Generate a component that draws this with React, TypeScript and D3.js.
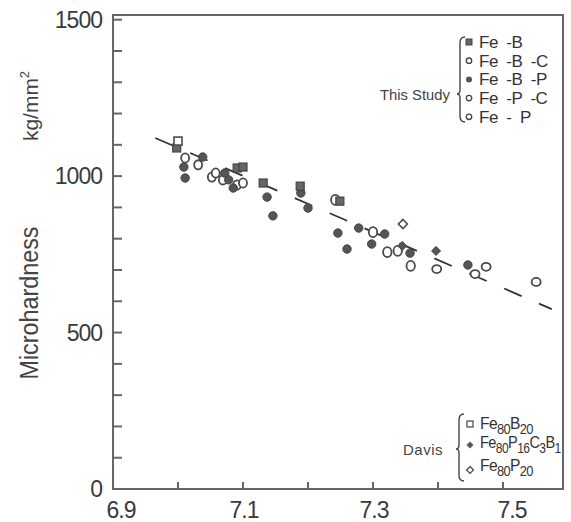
import React from "react";
import * as d3 from "d3";

// ---- data ----
const feB_x = [6.998, 7.091, 7.1, 7.131, 7.188, 7.249];
const feB_y = [1090, 1026, 1029, 978, 968, 920];

const feBP_x = [7.009, 7.011, 7.038, 7.072, 7.078, 7.085, 7.137, 7.146, 7.189, 7.2, 7.246, 7.26, 7.278, 7.298, 7.318, 7.357, 7.446];
const feBP_y = [1029, 994, 1061, 1010, 988, 962, 933, 873, 946, 898, 818, 767, 834, 783, 815, 754, 716];

const feBC_x = [7.011, 7.031, 7.052, 7.058, 7.069, 7.091, 7.1];
const feBC_y = [1058, 1036, 997, 1010, 988, 972, 978];

const fePC_x = [7.242, 7.3, 7.322, 7.338, 7.358];
const fePC_y = [924, 821, 757, 761, 713];

const feP_x = [7.398, 7.457, 7.474, 7.551];
const feP_y = [703, 687, 710, 662];

const davisB_x = [7.0];
const davisB_y = [1112];
const davisPCB_x = [7.345, 7.397];
const davisPCB_y = [777, 761];
const davisP_x = [7.346];
const davisP_y = [847];

const fitX = [6.965, 7.575];
const fitY = [1122, 575];

const xTicks = [6.9, 7.0, 7.1, 7.2, 7.3, 7.4, 7.5];
const xTickLabels = ["6.9", "", "7.1", "", "7.3", "", "7.5"];
const yTickLabels = [0, 500, 1000, 1500];

const studyLabels = ["Fe  -B", "Fe  -B  -C", "Fe  -B  -P", "Fe  -P  -C", "Fe  -  P"];

// ---- layout ----
const L = 113, R = 563, T = 15, B = 489;
const x = d3.scaleLinear().domain([6.9, 7.5923]).range([L, R]);
const y = d3.scaleLinear().domain([0, 1515]).range([B, T]);
const yMinor = d3.range(0, 1501, 100);

const ink = "#4a4a4a";
const font = "'Liberation Sans Narrow', 'Liberation Sans', Arial, sans-serif";

function zip(xs: number[], ys: number[]) {
  return xs.map((v, i) => [v, ys[i]] as [number, number]);
}

function brace(x0: number, y0: number, y1: number, ym: number) {
  const w = 5;
  return `M${x0 + w},${y0} Q${x0},${y0} ${x0},${y0 + 6} L${x0},${ym - 4} Q${x0},${ym} ${x0 - 3},${ym} Q${x0},${ym} ${x0},${ym + 4} L${x0},${y1 - 6} Q${x0},${y1} ${x0 + w},${y1}`;
}

export default function App() {
  const line = d3.line<[number, number]>().x(d => x(d[0])).y(d => y(d[1]));
  const diamond = (cx: number, cy: number, r: number) =>
    `M${cx},${cy - r} L${cx + r},${cy} L${cx},${cy + r} L${cx - r},${cy} Z`;

  return (
    <svg width={571} height={522} style={{ position: "absolute", left: 0, top: 0, background: "#fff" }}>
      {/* frame */}
      <rect x={L} y={T} width={R - L} height={B - T} fill="none" stroke="#666" strokeWidth={2} />
      {/* y ticks */}
      {yMinor.map(v => (
        <line key={"yt" + v} x1={L} x2={L + 9} y1={y(v)} y2={y(v)} stroke="#666" strokeWidth={2} />
      ))}
      {/* x ticks */}
      {xTicks.slice(1).map(v => (
        <line key={"xt" + v} x1={x(v)} x2={x(v)} y1={B} y2={B - 7} stroke="#666" strokeWidth={2} />
      ))}
      {/* tick labels */}
      {yTickLabels.map(v => (
        <text key={"yl" + v} x={102} y={y(v) + 8} textAnchor="end" fontSize={23} fill="#3a3a3a" fontFamily={font} letterSpacing={-1}>
          {v}
        </text>
      ))}
      {xTicks.map((v, i) =>
        xTickLabels[i] ? (
          <text key={"xl" + v} x={x(v) + (i === 0 ? 8 : i === 6 ? 9 : 1)} y={518} textAnchor="middle" fontSize={23} fill="#3a3a3a" fontFamily={font} letterSpacing={-1}>
            {xTickLabels[i]}
          </text>
        ) : null
      )}
      {/* axis titles */}
      <text transform="translate(38,303) rotate(-90)" textAnchor="middle" fontSize={25} fill="#444" fontFamily={font} textLength={153} lengthAdjust="spacingAndGlyphs">
        Microhardness
      </text>
      <text transform="translate(38,106) rotate(-90)" textAnchor="middle" fontSize={21} fill="#444" fontFamily={font}>
        kg/mm<tspan dy={-9} fontSize={13}>2</tspan>
      </text>

      {/* fitted dashed line */}
      <path d={line(zip(fitX, fitY)) || ""} fill="none" stroke="#333" strokeWidth={1.8} strokeDasharray="19 19" />

      {/* Fe-B-C open circles */}
      {zip(feBC_x, feBC_y).map((d, i) => (
        <ellipse key={"bc" + i} cx={x(d[0])} cy={y(d[1])} rx={4} ry={4.6} fill="#fff" stroke={ink} strokeWidth={1.8} />
      ))}
      {zip(fePC_x, fePC_y).map((d, i) => (
        <ellipse key={"pc" + i} cx={x(d[0])} cy={y(d[1])} rx={4.2} ry={5} fill="#fff" stroke={ink} strokeWidth={1.8} />
      ))}
      {zip(feP_x, feP_y).map((d, i) => (
        <ellipse key={"p" + i} cx={x(d[0])} cy={y(d[1])} rx={4.5} ry={4} fill="#fff" stroke={ink} strokeWidth={1.8} />
      ))}
      {/* Fe-B-P filled circles */}
      {zip(feBP_x, feBP_y).map((d, i) => (
        <circle key={"bp" + i} cx={x(d[0])} cy={y(d[1])} r={4.2} fill="#555" stroke="#444" strokeWidth={1} />
      ))}
      {/* Fe-B filled squares */}
      {zip(feB_x, feB_y).map((d, i) => (
        <rect key={"b" + i} x={x(d[0]) - 4} y={y(d[1]) - 4} width={8} height={8} fill="#666" stroke="#444" strokeWidth={1.2} />
      ))}
      {/* Davis */}
      {zip(davisB_x, davisB_y).map((d, i) => (
        <rect key={"db" + i} x={x(d[0]) - 4} y={y(d[1]) - 4} width={8} height={8} fill="#fff" stroke={ink} strokeWidth={1.6} />
      ))}
      {zip(davisPCB_x, davisPCB_y).map((d, i) => (
        <path key={"dpcb" + i} d={diamond(x(d[0]), y(d[1]), 4.5)} fill="#555" stroke="#444" strokeWidth={1} />
      ))}
      {zip(davisP_x, davisP_y).map((d, i) => (
        <path key={"dp" + i} d={diamond(x(d[0]), y(d[1]), 4.5)} fill="#fff" stroke={ink} strokeWidth={1.6} />
      ))}

      {/* This Study legend */}
      <text x={450} y={100} textAnchor="end" fontSize={15} fill="#444" fontFamily={font} textLength={70} lengthAdjust="spacingAndGlyphs">This Study</text>
      <path d={brace(460, 37, 122, 94)} fill="none" stroke="#444" strokeWidth={1.4} />
      {studyLabels.map((s, i) => {
        const ly = 42 + i * 18.7;
        return (
          <g key={"lg" + i}>
            {i === 0 ? (
              <rect x={466} y={ly - 3} width={6} height={6} fill="#666" stroke="#444" />
            ) : i === 2 ? (
              <circle cx={469} cy={ly} r={3} fill="#555" />
            ) : (
              <circle cx={469} cy={ly} r={2.7} fill="#fff" stroke="#444" strokeWidth={1.3} />
            )}
            <text x={479} y={ly + 6} fontSize={17} fill="#333" fontFamily={font} letterSpacing={-0.5} style={{ whiteSpace: "pre" }} xmlSpace="preserve">{s}</text>
          </g>
        );
      })}

      {/* Davis legend */}
      <text x={443} y={455} textAnchor="end" fontSize={15} fill="#444" fontFamily={font} letterSpacing={0.5}>Davis</text>
      <path d={brace(459, 414, 481, 449)} fill="none" stroke="#444" strokeWidth={1.4} />
      <rect x={467} y={421} width={6} height={6} fill="#fff" stroke="#444" strokeWidth={1.2} />
      <g transform="translate(480,429) scale(0.92,1)">
        <text x={0} y={0} fontSize={17} fill="#333" fontFamily={font} letterSpacing={-0.7}>
          Fe<tspan dy={5} fontSize={14}>80</tspan><tspan dy={-5}>B</tspan><tspan dy={5} fontSize={14}>20</tspan>
        </text>
      </g>
      <path d={diamond(470, 445, 3.5)} fill="#555" />
      <g transform="translate(480,448) scale(0.86,1)">
        <text x={0} y={0} fontSize={17} fill="#333" fontFamily={font} letterSpacing={-0.7}>
          Fe<tspan dy={5} fontSize={14}>80</tspan><tspan dy={-5}>P</tspan><tspan dy={5} fontSize={14}>16</tspan><tspan dy={-5}>C</tspan><tspan dy={5} fontSize={14}>3</tspan><tspan dy={-5}>B</tspan><tspan dy={5} fontSize={14}>1</tspan>
        </text>
      </g>
      <path d={diamond(470, 470, 3.5)} fill="#fff" stroke="#444" strokeWidth={1.2} />
      <g transform="translate(480,471) scale(0.92,1)">
        <text x={0} y={0} fontSize={17} fill="#333" fontFamily={font} letterSpacing={-0.7}>
          Fe<tspan dy={5} fontSize={14}>80</tspan><tspan dy={-5}>P</tspan><tspan dy={5} fontSize={14}>20</tspan>
        </text>
      </g>
    </svg>
  );
}
